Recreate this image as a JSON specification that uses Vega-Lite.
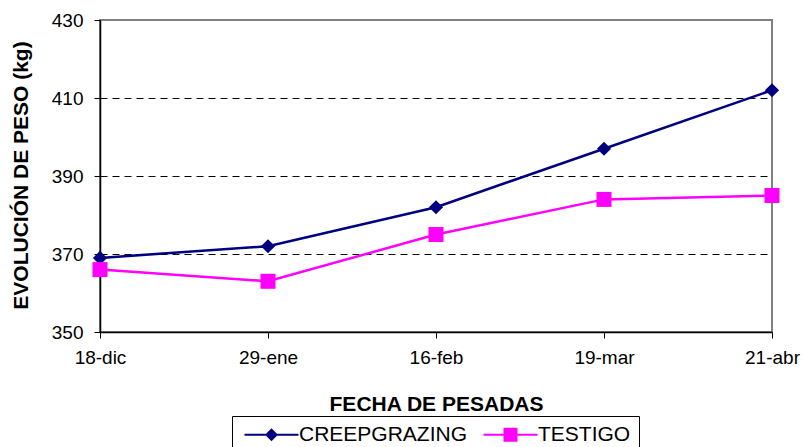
{
  "$schema": "https://vega.github.io/schema/vega-lite/v6.json",
  "width": 672,
  "height": 312,
  "autosize": {"type": "none"},
  "padding": {"left": 100, "top": 20, "right": 32, "bottom": 115},
  "background": "white",
  "config": {
    "font": "Liberation Sans",
    "view": {"stroke": "#808080", "strokeWidth": 2}
  },
  "data": {
    "values": [
      {"fecha": "18-dic", "serie": "CREEPGRAZING", "peso": 369},
      {"fecha": "29-ene", "serie": "CREEPGRAZING", "peso": 372},
      {"fecha": "16-feb", "serie": "CREEPGRAZING", "peso": 382},
      {"fecha": "19-mar", "serie": "CREEPGRAZING", "peso": 397},
      {"fecha": "21-abr", "serie": "CREEPGRAZING", "peso": 412},
      {"fecha": "18-dic", "serie": "TESTIGO", "peso": 366},
      {"fecha": "29-ene", "serie": "TESTIGO", "peso": 363},
      {"fecha": "16-feb", "serie": "TESTIGO", "peso": 375},
      {"fecha": "19-mar", "serie": "TESTIGO", "peso": 384},
      {"fecha": "21-abr", "serie": "TESTIGO", "peso": 385}
    ]
  },
  "encoding": {
    "x": {
      "field": "fecha",
      "type": "ordinal",
      "sort": ["18-dic", "29-ene", "16-feb", "19-mar", "21-abr"],
      "scale": {"type": "point", "padding": 0},
      "axis": {
        "title": "FECHA DE PESADAS",
        "labelAngle": 0,
        "labelFontSize": 19,
        "labelColor": "black",
        "labelPadding": 10,
        "labelFlush": false,
        "tickSize": 6,
        "tickColor": "black",
        "domainColor": "black",
        "domainWidth": 1.5,
        "grid": false,
        "titleFontSize": 21,
        "titleFontWeight": "bold",
        "titleColor": "black",
        "titleX": 336,
        "titleY": 78,
        "titleAlign": "center",
        "titleBaseline": "alphabetic"
      }
    },
    "y": {
      "field": "peso",
      "type": "quantitative",
      "scale": {"domain": [350, 430], "nice": false, "zero": false},
      "axis": {
        "title": "EVOLUCIÓN DE PESO (kg)",
        "values": [350, 370, 390, 410, 430],
        "labelFontSize": 19,
        "labelColor": "black",
        "labelPadding": 11,
        "tickSize": 6,
        "tickColor": "black",
        "domainColor": "black",
        "domainWidth": 1.5,
        "grid": true,
        "gridColor": "black",
        "gridDash": [7, 5],
        "gridOpacity": {"condition": {"test": "datum.value === 350 || datum.value === 430", "value": 0}, "value": 1},
        "titleFontSize": 21,
        "titleFontWeight": "bold",
        "titleColor": "black",
        "titleAngle": 270,
        "titleX": -79,
        "titleY": 155,
        "titleAlign": "center",
        "titleBaseline": "middle"
      }
    },
    "color": {
      "field": "serie",
      "type": "nominal",
      "scale": {"domain": ["CREEPGRAZING", "TESTIGO"], "range": ["#000080", "#FF00FF"]},
      "legend": {
        "title": null,
        "orient": "none",
        "legendX": 132,
        "legendY": 396,
        "direction": "horizontal",
        "strokeColor": "black",
        "fillColor": "white",
        "padding": 8,
        "labelFontSize": 21,
        "labelFont": "Liberation Sans",
        "labelColor": "black",
        "labelOffset": 38,
        "labelLimit": 300,
        "columnPadding": 11,
        "symbolSize": 100,
        "symbolStrokeWidth": 2,
        "encode": {
          "symbols": {
            "update": {
              "shape": {"signal": "datum.value === 'CREEPGRAZING' ? 'M-1.2,0L9.6,0M3.2,0L4.2,-1L5.2,0L4.2,1Z' : 'M-1.2,0L9.6,0M3,-1.2L5.4,-1.2L5.4,1.2L3,1.2Z'"},
              "fill": {"signal": "scale('color', datum.value)"},
              "stroke": {"signal": "scale('color', datum.value)"},
              "strokeWidth": {"value": 2},
              "opacity": {"value": 1}
            }
          }
        }
      }
    }
  },
  "layer": [
    {
      "mark": {"type": "line", "strokeWidth": 2.5}
    },
    {
      "mark": {"type": "point", "filled": true, "opacity": 1},
      "encoding": {
        "shape": {"condition": {"test": "datum.serie === 'TESTIGO'", "value": "square"}, "value": "diamond"},
        "size": {"condition": {"test": "datum.serie === 'TESTIGO'", "value": 225}, "value": 200}
      }
    }
  ]
}
